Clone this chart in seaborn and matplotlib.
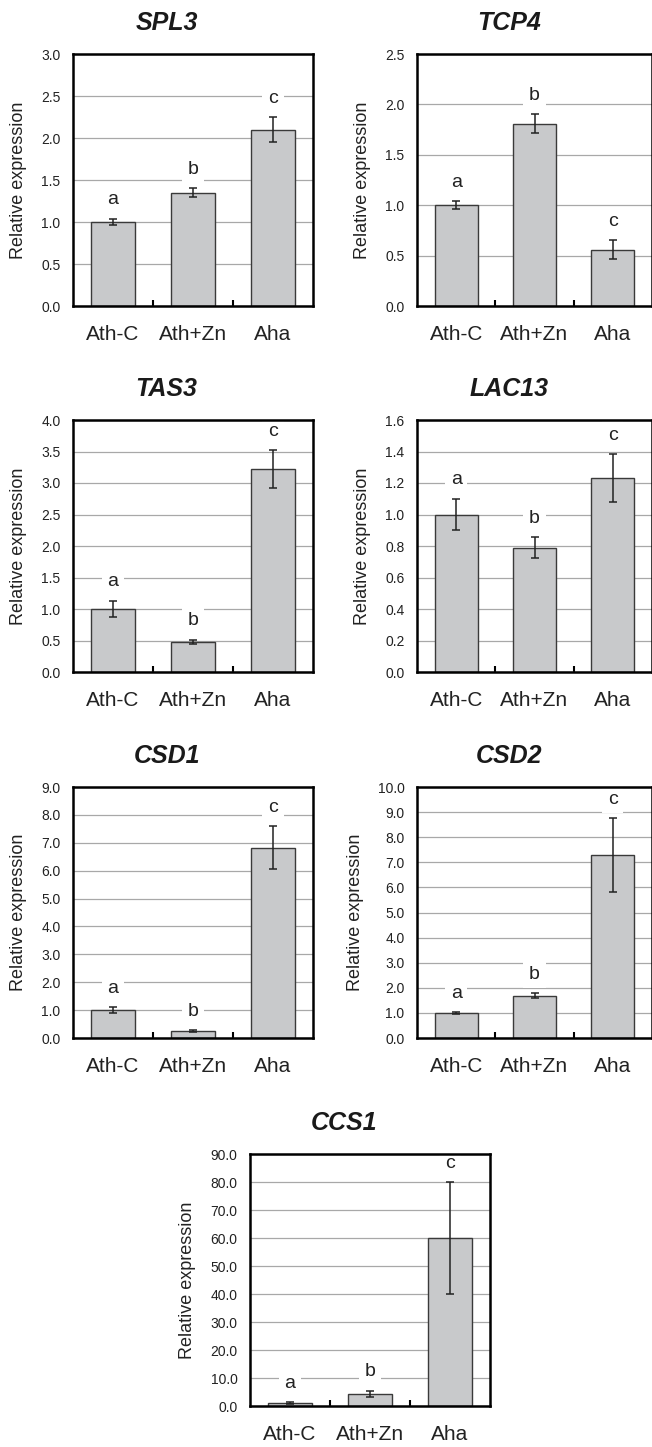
import numpy as np
import matplotlib
matplotlib.use('Agg')
import matplotlib.pyplot as plt
import seaborn as sns

# groups / significance letters (same for every gene)
groups = ['Ath-C', 'Ath+Zn', 'Aha']
letters = ['a', 'b', 'c']

# relative expression, mean and SD
spl3_mean = [1.00, 1.35, 2.10]
spl3_sd = [0.04, 0.05, 0.145]
tcp4_mean = [1.00, 1.81, 0.56]
tcp4_sd = [0.04, 0.09, 0.095]
tas3_mean = [1.00, 0.48, 3.22]
tas3_sd = [0.13, 0.03, 0.30]
lac13_mean = [1.00, 0.79, 1.23]
lac13_sd = [0.10, 0.065, 0.153]
csd1_mean = [1.00, 0.25, 6.82]
csd1_sd = [0.10, 0.02, 0.77]
csd2_mean = [1.00, 1.69, 7.29]
csd2_sd = [0.03, 0.10, 1.48]
ccs1_mean = [1.00, 4.3, 60.0]
ccs1_sd = [0.4, 1.1, 20.0]

# gene, mean, sd, y max, y step
panels = [
    ('SPL3', spl3_mean, spl3_sd, 3.0, 0.5),
    ('TCP4', tcp4_mean, tcp4_sd, 2.5, 0.5),
    ('TAS3', tas3_mean, tas3_sd, 4.0, 0.5),
    ('LAC13', lac13_mean, lac13_sd, 1.6, 0.2),
    ('CSD1', csd1_mean, csd1_sd, 9.0, 1.0),
    ('CSD2', csd2_mean, csd2_sd, 10.0, 1.0),
    ('CCS1', ccs1_mean, ccs1_sd, 90.0, 10.0),
]

W, H = 652, 1447
# axes rectangles in pixels: left, top, width, height
rects = [(73, 54, 240, 252), (417, 54, 235, 252),
         (73, 420, 240, 252), (417, 420, 235, 252),
         (73, 787, 240, 251), (417, 787, 235, 251),
         (250, 1154, 240, 252)]

sns.set_theme(style='white')
plt.rcParams['font.family'] = ['Liberation Sans', 'DejaVu Sans']

fig = plt.figure(figsize=(W / 100, H / 100), dpi=100)

for (gene, mean, sd, ymax, step), (l, t, w, h) in zip(panels, rects):
    ax = fig.add_axes([l / W, 1 - (t + h) / H, w / W, h / H])
    sns.barplot(x=groups, y=mean, order=groups, color='#c8c9cb', edgecolor='#3a3a3a',
                linewidth=1.0, width=0.55, saturation=1, errorbar=None, ax=ax)
    xs = np.arange(len(groups))
    ax.errorbar(xs, mean, yerr=sd, fmt='none', ecolor='#222222', elinewidth=1.1,
                capsize=3, capthick=1.1, zorder=3)
    # letters sit above gridlines but under the frame
    for i in range(len(groups)):
        ax.text(xs[i], mean[i] + sd[i] + 0.075 * ymax, letters[i], ha='center', va='center',
                fontsize=14, color='#222222', zorder=2,
                bbox=dict(facecolor='white', edgecolor='none', pad=4))

    ax.set_xlim(-0.5, len(groups) - 0.5)
    ax.set_ylim(0, ymax)
    ax.set_yticks(np.arange(0, ymax + step / 2, step))
    ax.set_yticklabels(['%.1f' % v for v in np.arange(0, ymax + step / 2, step)])
    ax.set_xticks([0.5, 1.5], minor=True)
    ax.tick_params(axis='x', which='major', length=0, pad=14, labelsize=15, labelcolor='#222222')
    ax.tick_params(axis='x', which='minor', direction='in', bottom=True, length=4.5, width=1.5, color='black')
    ax.tick_params(axis='y', which='major', length=0, pad=9, labelsize=10, labelcolor='#222222')

    ax.yaxis.grid(True, color='#a8a8a8', linewidth=0.9)
    ax.xaxis.grid(False)
    ax.set_axisbelow(True)
    for s in ax.spines.values():
        s.set_visible(True)
        s.set_color('black')
        s.set_linewidth(1.8)
        s.set_zorder(5)

    ax.set_xlabel('')
    ax.set_ylabel('Relative expression', fontsize=13, labelpad=10, color='#222222')
    ax.set_title(gene, fontsize=18, fontweight='bold', fontstyle='italic', x=0.39, pad=17, color='#1a1a1a')

fig.savefig('out.png', dpi=100)
